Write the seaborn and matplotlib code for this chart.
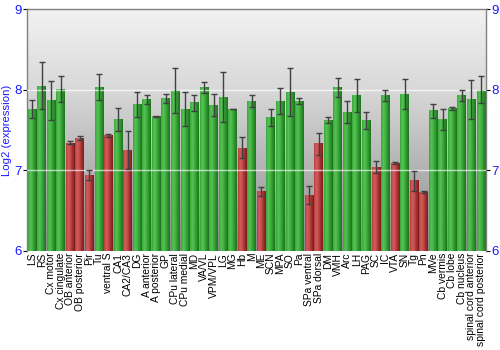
import numpy as np
import pandas as pd
import matplotlib
matplotlib.use("Agg")
import matplotlib.pyplot as plt
from matplotlib.colors import LinearSegmentedColormap
import seaborn as sns

regions = [
    "LS", "RS", "Cx motor", "Cx cingulate", "OB anterior", "OB posterior", "Pir", "Tu",
    "ventral S", "CA1", "CA2/CA3", "DG", "A anterior", "A posterior", "GP", "CPu lateral",
    "CPu medial", "MD", "VA/VL", "VPM/VPL", "LG", "MG", "Hb", "M", "ME", "SCN", "MPA", "SO",
    "Pa", "SPa ventral", "SPa dorsal", "DM", "VMH", "Arc", "LH", "PAG", "SC", "IC", "VTA",
    "SN", "Tg", "Pn", "MVe", "Cb vermis", "Cb lobe", "Cb nucleus", "spinal cord anterior",
    "spinal cord posterior",
]
expression = [
    7.76, 8.05, 7.87, 8.01, 7.34, 7.40, 6.94, 8.03,
    7.43, 7.63, 7.25, 7.82, 7.88, 7.67, 7.89, 7.99,
    7.76, 7.84, 8.03, 7.81, 7.91, 7.76, 7.28, 7.86, 6.74, 7.66, 7.86, 7.97,
    7.86, 6.69, 7.33, 7.62, 8.03, 7.72, 7.93, 7.62, 7.04, 7.93, 7.09,
    7.95, 6.87, 6.73, 7.74, 7.63, 7.77, 7.93, 7.88,
    8.00,
]
error = [
    0.11, 0.29, 0.24, 0.165, 0.02, 0.03, 0.06, 0.16,
    0.015, 0.145, 0.24, 0.153, 0.06, 0.005, 0.06, 0.28,
    0.215, 0.10, 0.07, 0.135, 0.305, 0.005, 0.13, 0.07, 0.055, 0.105, 0.16, 0.30,
    0.033, 0.11, 0.137, 0.037, 0.12, 0.137, 0.20, 0.11, 0.07, 0.066, 0.015,
    0.187, 0.122, 0.017, 0.085, 0.133, 0.02, 0.064, 0.245,
    0.168,
]
# regions with reduced expression are drawn in red
low = ["OB anterior", "OB posterior", "Pir", "ventral S", "CA2/CA3", "Hb", "ME",
       "SPa ventral", "SPa dorsal", "SC", "VTA", "Tg", "Pn"]

df = pd.DataFrame({"region": regions, "expr": expression, "err": error})
df["group"] = np.where(df["region"].isin(low), "low", "normal")

sns.set_style("white")
plt.rcParams["font.family"] = ["Liberation Sans", "DejaVu Sans"]

fig = plt.figure(figsize=(5, 3.5), dpi=100)
ax = fig.add_axes([0.0546, 0.2837, 0.9168, 0.6897])

sns.barplot(data=df, x="region", y="expr", hue="group", dodge=False, legend=False,
            palette={"normal": "#2e9a2e", "low": "#b03030"}, width=0.91,
            errorbar=None, ax=ax, zorder=2)

YMIN, YMAX = 6, 9
n = len(regions)

# gray vertical gradient background
bg = LinearSegmentedColormap.from_list("bg", ["#8a8a8a", "#b2b2b2", "#d8d8d8", "#f2f2f2"])
ax.imshow(np.linspace(0, 1, 256).reshape(-1, 1), cmap=bg, aspect="auto",
          extent=[-0.5, n - 0.5, YMIN, YMAX], origin="lower", zorder=0)

green = LinearSegmentedColormap.from_list(
    "g", ["#38a638", "#56c256", "#42b242", "#2c912c", "#1c741c"])
red = LinearSegmentedColormap.from_list(
    "r", ["#b83c3c", "#d45e5e", "#c24a4a", "#9e2e2e", "#7c1c1c"])
grad = np.linspace(0, 1, 64).reshape(1, -1)

# shade each bar with a horizontal gradient spanning its own geometry
for patch in list(ax.patches):
    x0, y0 = patch.get_x(), patch.get_y()
    w, h = patch.get_width(), patch.get_height()
    if h <= 0:
        continue
    fc = patch.get_facecolor()
    cmap = red if fc[0] > fc[1] else green
    ax.imshow(grad, cmap=cmap, aspect="auto",
              extent=[x0, x0 + w, max(y0, YMIN), y0 + h], zorder=2)
    patch.set_facecolor("none")
    patch.set_edgecolor("none")

ax.set_xlim(-0.5, n - 0.5)
ax.set_ylim(YMIN, YMAX)

# error bars: gray stems with black caps
xpos = np.arange(n)
_, caps, stems = ax.errorbar(xpos, df["expr"], yerr=df["err"], fmt="none",
                             ecolor="#404040", elinewidth=1.0, capsize=2.2,
                             capthick=1.0, zorder=4)
for c in caps:
    c.set_color("black")

# horizontal reference lines
for yv, a in [(8, 0.75), (7, 0.65)]:
    ax.axhline(yv, color="white", lw=1.0, alpha=a, zorder=3)

ax.set_yticks([6, 7, 8, 9])
ax.tick_params(axis="y", which="both", left=True, right=True, labelleft=True,
               labelright=True, length=3, width=0.8, color="black",
               labelcolor="#1a1aff", labelsize=9.5, pad=1)
ax.tick_params(axis="x", length=0, labelsize=7.4, pad=1.5, labelcolor="black")
ax.set_xticks(xpos)
ax.set_xticklabels(regions, rotation=90)
for s in ["left", "right", "top"]:
    ax.spines[s].set_color("#808080")
    ax.spines[s].set_linewidth(1.0)
ax.spines["bottom"].set_visible(False)

ax.set_xlabel("")
ax.set_ylabel("Log2 (expression)", color="#1a1aff", fontsize=8.2)
ax.yaxis.set_label_coords(-0.034, 0.5)

fig.savefig("out.png", dpi=100)
